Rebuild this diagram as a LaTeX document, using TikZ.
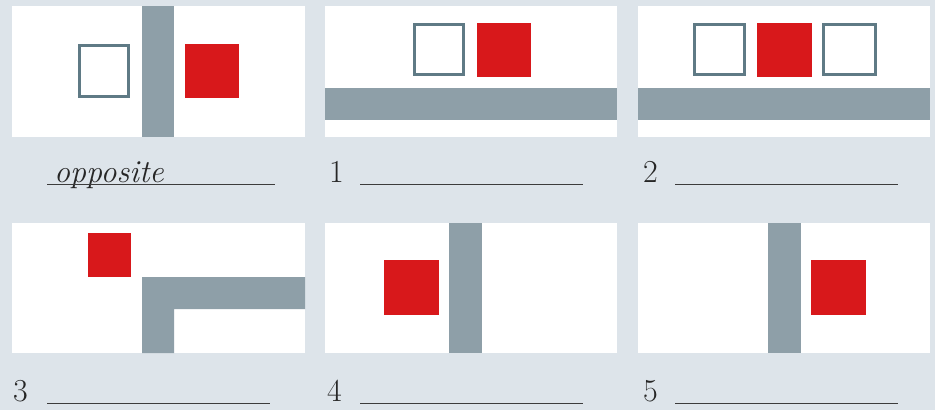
\documentclass[tikz,border=0pt]{standalone}
\usepackage{tikz}
\usetikzlibrary{positioning}

\definecolor{pagebg}{HTML}{DDE4EA}
\definecolor{barblue}{HTML}{8E9FA8}
\definecolor{edgeblue}{HTML}{5F7A85}
\definecolor{boxred}{HTML}{D8181B}
\definecolor{inkgray}{HTML}{262626}

\begin{document}
\begin{tikzpicture}[
    x=1pt, y=-1pt,
    panel/.style={fill=white},
    bar/.style={fill=barblue},
    hollow/.style={draw=edgeblue, line width=3pt, fill=white},
    solid/.style={fill=boxred},
    lab/.style={anchor=base west, inner sep=0pt, text=inkgray, font=\fontsize{32}{38}\selectfont},
    blank/.style={draw=inkgray!90, line width=0.8pt},
  ]
    \fill[pagebg] (0,0) rectangle (935,410);
    \useasboundingbox (0,0) rectangle (935,410);

    % top row
    \fill[panel] (12,6) rectangle (305,137);
    \fill[bar] (142,6) rectangle (174,137);
    \draw[hollow] (79.5,45.5) rectangle (128.5,96.5);
    \fill[solid] (185,44) rectangle (239,98);

    \fill[panel] (325,6) rectangle (617,137);
    \fill[bar] (325,88) rectangle (617,120);
    \draw[hollow] (414.5,24.5) rectangle (463.5,74.5);
    \fill[solid] (477,23) rectangle (531,77);

    \fill[panel] (638,6) rectangle (930,137);
    \fill[bar] (638,88) rectangle (930,120);
    \draw[hollow] (694.5,24.5) rectangle (744.5,74.5);
    \fill[solid] (757,23) rectangle (812,77);
    \draw[hollow] (823.5,24.5) rectangle (875.5,74.5);

    % bottom row
    \fill[panel] (12,223) rectangle (305,353);
    \fill[solid] (88,233) rectangle (131,277);
    \fill[bar] (142,353) -- (142,277) -- (305,277) -- (305,309) -- (174,309) -- (174,353) -- cycle;

    \fill[panel] (325,223) rectangle (617,353);
    \fill[bar] (449,223) rectangle (482,353);
    \fill[solid] (384,260) rectangle (439,315);

    \fill[panel] (638,223) rectangle (930,353);
    \fill[bar] (768,223) rectangle (801,353);
    \fill[solid] (811,260) rectangle (866,315);

    % answer lines
    \node[lab] (ans0) at (54,182) {\itshape opposite};
    \node[lab] (ans1) at (329,182) {1};
    \node[lab] (ans2) at (643,182) {2};
    \node[lab] (ans3) at (13,401) {3};
    \node[lab] (ans4) at (327,401) {4};
    \node[lab] (ans5) at (643,401) {5};

    \draw[blank] (47,184) -- (275,184);
    \draw[blank] (360,184) -- (583,184);
    \draw[blank] (675,184) -- (898,184);
    \draw[blank] (47,403) -- (270,403);
    \draw[blank] (360,403) -- (583,403);
    \draw[blank] (675,403) -- (898,403);
\end{tikzpicture}
\end{document}
